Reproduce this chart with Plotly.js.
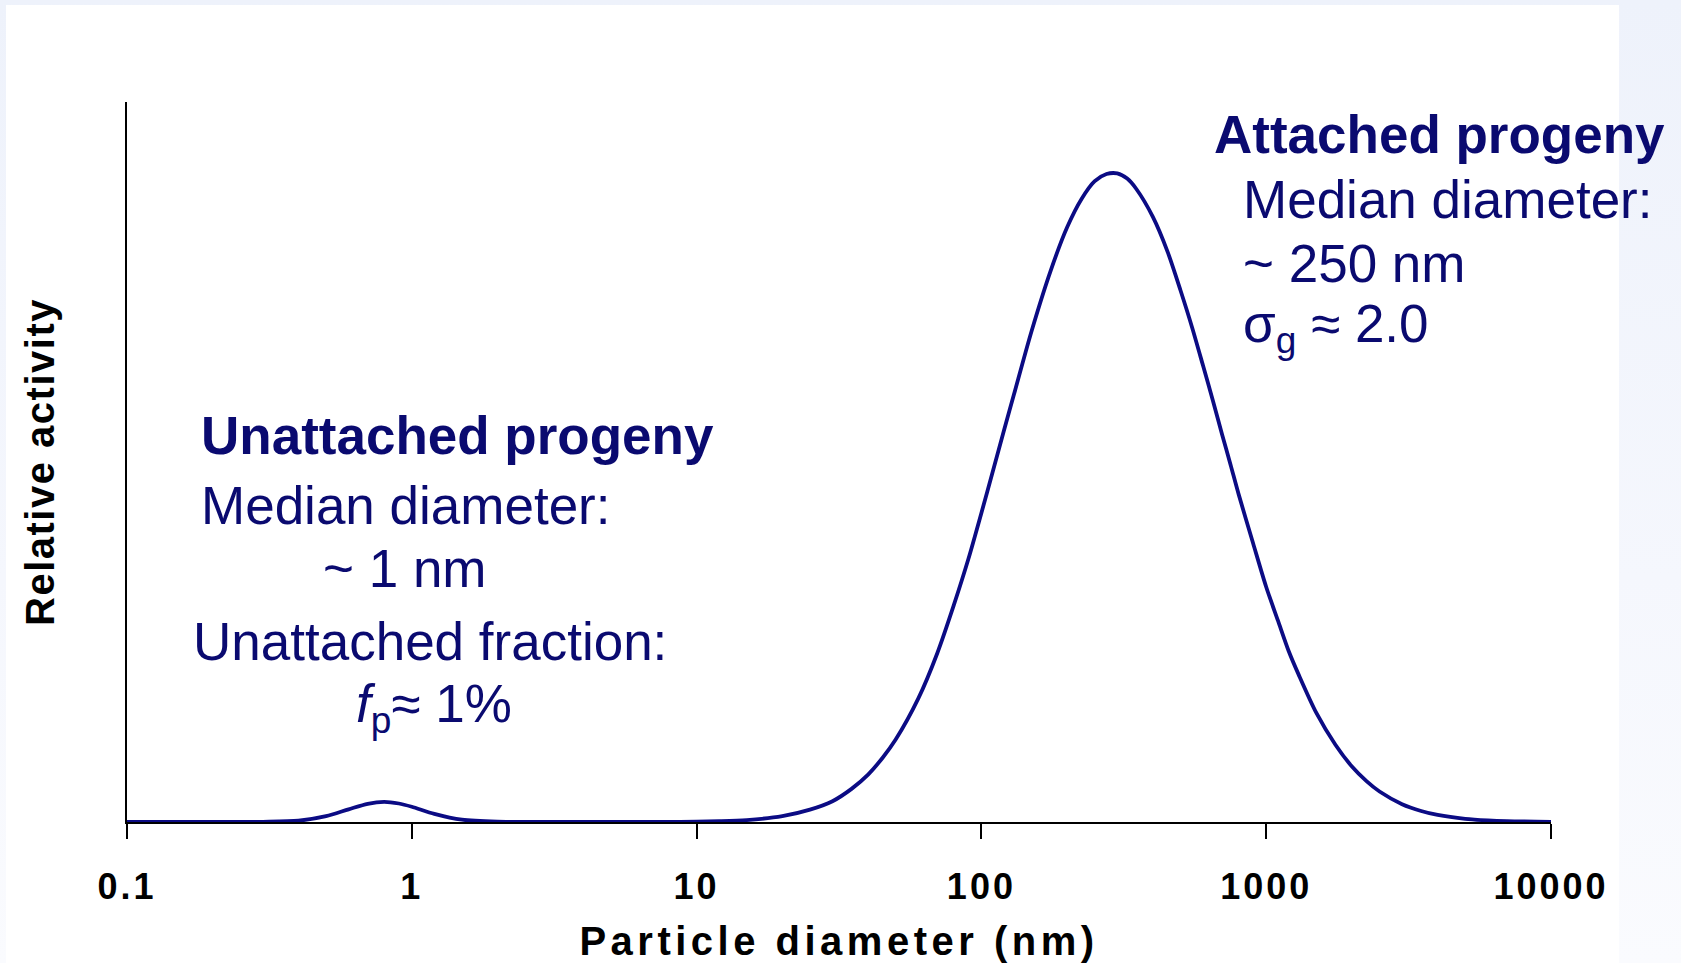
<!DOCTYPE html>
<html>
<head>
<meta charset="utf-8">
<script src="https://cdn.plot.ly/plotly-3.0.1.min.js"></script>
<style>
  html, body { margin: 0; padding: 0; }
  body { width: 1681px; height: 963px; overflow: hidden;
         background: linear-gradient(to bottom, #EEF2FB 0%, #F5F7FD 60%, #FAFBFE 100%); }
  #chart { width: 1681px; height: 963px; }
  .xtick text { letter-spacing: 3px; }
  .g-xtitle text { letter-spacing: 4.5px; }
  .g-ytitle text { letter-spacing: 1.5px; }
</style>
</head>
<body>
<div id="chart"></div>
<script>
// Particle diameter (nm)
const diameters = [0.1, 0.2, 0.3, 0.4, 0.5, 0.6, 0.7, 0.8, 0.9, 1, 1.2, 1.5, 2, 3, 5, 8,
  10, 12, 15, 20, 25, 30, 35, 40, 45, 50, 60, 70, 80, 90, 100, 110, 120, 130, 150, 175,
  200, 225, 250, 275, 300, 325, 350, 400, 450, 500, 550, 600, 650, 700, 750, 800, 900,
  1000, 1100, 1200, 1300, 1500, 1750, 2000, 2250, 2500, 3000, 3500, 4000, 5000, 6000, 7000, 10000];
// Relative activity (peak of attached mode ~ 1)
const activity = [0, 0, 0.0003, 0.002, 0.009, 0.0195, 0.028, 0.031, 0.0285, 0.0235, 0.0125, 0.0035, 0.0004, 0, 0, 0,
  0.0005, 0.0012, 0.003, 0.009, 0.019, 0.032, 0.051, 0.073, 0.099, 0.127, 0.19, 0.26, 0.334, 0.405, 0.476, 0.542, 0.603, 0.658, 0.756, 0.849,
  0.916, 0.96, 0.987, 0.998, 0.999, 0.991, 0.975, 0.932, 0.879, 0.819, 0.761, 0.703, 0.649, 0.597, 0.55, 0.505, 0.429,
  0.362, 0.31, 0.263, 0.227, 0.168, 0.119, 0.0855, 0.063, 0.047, 0.0275, 0.017, 0.0108, 0.0048, 0.0024, 0.0013, 0.0003];

const tickValues = [0.1, 1, 10, 100, 1000, 10000];
const tickLabels = ['0.1', '1', '10', '100', '1000', '10000'];

const FONT = 'Liberation Sans, Arial, Helvetica, sans-serif';
const NAVY_TEXT = '#0A0A70';
const NAVY_LINE = '#0B0B84';

const trace = {
  x: diameters,
  y: activity,
  type: 'scatter',
  mode: 'lines',
  line: { color: NAVY_LINE, width: 3.8, shape: 'spline', smoothing: 0.8 },
  hoverinfo: 'x+y',
  showlegend: false
};

function ann(text, x, y, xanchor, bold) {
  return {
    xref: 'paper', yref: 'paper', x: x, y: y, xanchor: xanchor, yanchor: 'middle',
    text: text, showarrow: false,
    font: { family: FONT, size: 53, color: NAVY_TEXT, weight: bold ? 'bold' : 'normal' }
  };
}

const layout = {
  width: 1681, height: 963,
  margin: { l: 127, r: 130, t: 102, b: 141 },
  paper_bgcolor: 'rgba(0,0,0,0)',
  plot_bgcolor: 'rgba(0,0,0,0)',
  showlegend: false,
  xaxis: {
    type: 'log', range: [-1, 4], automargin: false,
    tickvals: tickValues, ticktext: tickLabels,
    ticks: 'outside', ticklen: 15, tickwidth: 2, tickcolor: '#000',
    showline: true, linecolor: '#000', linewidth: 2,
    showgrid: false, zeroline: false,
    tickfont: { family: FONT, size: 36, color: '#000', weight: 'bold' },
    ticklabelstandoff: 17,
    title: { text: 'Particle diameter (nm)', standoff: 26,
             font: { family: FONT, size: 40, color: '#000', weight: 'bold' } }
  },
  yaxis: {
    range: [0, 1.109], automargin: false,
    showline: true, linecolor: '#000', linewidth: 2,
    ticks: '', showticklabels: false, showgrid: false, zeroline: false,
    title: { text: 'Relative activity', standoff: 58,
             font: { family: FONT, size: 40, color: '#000', weight: 'bold' } }
  },
  shapes: [{
    type: 'rect', xref: 'paper', yref: 'paper', layer: 'below',
    x0: -0.085, x1: 1.0478, y0: -0.2, y1: 1.1347,
    fillcolor: '#FFFFFF', line: { width: 0 }
  }],
  annotations: [
    ann('Attached progeny', 0.7622, 0.9545, 'left', true),
    ann('Median diameter:', 0.7826, 0.8639, 'left', false),
    ann('~ 250 nm', 0.7826, 0.7757, 'left', false),
    ann('σ<sub>g</sub> ≈ 2.0', 0.7826, 0.6868, 'left', false),
    ann('Unattached progeny', 0.0508, 0.5364, 'left', true),
    ann('Median diameter:', 0.0508, 0.4397, 'left', false),
    ann('~ 1 nm', 0.1954, 0.3515, 'center', false),
    ann('Unattached fraction:', 0.0448, 0.2507, 'left', false),
    ann('<i>f</i><sub>p</sub>≈ 1%', 0.1593, 0.1597, 'left', false)
  ]
};

Plotly.newPlot('chart', [trace], layout, { displayModeBar: false, staticPlot: true });
</script>
</body>
</html>
